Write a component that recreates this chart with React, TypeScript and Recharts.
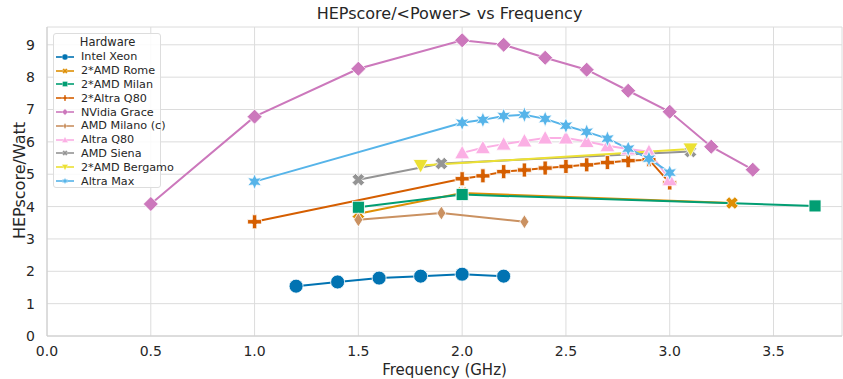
import React from 'react';
import { LineChart, Line, XAxis, YAxis, CartesianGrid } from 'recharts';

// frequency (GHz) / HEPscore per Watt
const intelXeonX = [1.2, 1.4, 1.6, 1.8, 2.0, 2.2];
const intelXeonY = [1.54, 1.67, 1.79, 1.85, 1.91, 1.85];

const romeX = [1.5, 2.0, 3.3];
const romeY = [3.78, 4.42, 4.11];

const milanX = [1.5, 2.0, 3.7];
const milanY = [3.98, 4.37, 4.02];

const altraQ80DualX = [1.0, 2.0, 2.1, 2.2, 2.3, 2.4, 2.5, 2.6, 2.7, 2.8, 2.9, 3.0];
const altraQ80DualY = [3.53, 4.86, 4.95, 5.08, 5.13, 5.19, 5.24, 5.29, 5.36, 5.42, 5.45, 4.73];

const graceX = [0.5, 1.0, 1.5, 2.0, 2.2, 2.4, 2.6, 2.8, 3.0, 3.2, 3.4];
const graceY = [4.08, 6.78, 8.26, 9.14, 9.0, 8.6, 8.23, 7.58, 6.93, 5.85, 5.14];

const milanoCX = [1.5, 1.9, 2.3];
const milanoCY = [3.59, 3.8, 3.53];

const altraQ80X = [2.0, 2.1, 2.2, 2.3, 2.4, 2.5, 2.6, 2.7, 2.8, 2.9, 3.0];
const altraQ80Y = [5.66, 5.82, 5.93, 6.03, 6.12, 6.12, 6.01, 5.88, 5.78, 5.7, 4.83];

const sienaX = [1.5, 1.9, 3.1];
const sienaY = [4.83, 5.33, 5.7];

const bergamoX = [1.8, 3.1];
const bergamoY = [5.27, 5.78];

const altraMaxX = [1.0, 2.0, 2.1, 2.2, 2.3, 2.4, 2.5, 2.6, 2.7, 2.8, 2.9, 3.0];
const altraMaxY = [4.77, 6.59, 6.68, 6.8, 6.84, 6.71, 6.5, 6.31, 6.1, 5.79, 5.48, 5.05];

const xTicks = [0, 0.5, 1, 1.5, 2, 2.5, 3, 3.5];
const yTicks = [0, 1, 2, 3, 4, 5, 6, 7, 8, 9];

const zip = (xs: number[], ys: number[]) => xs.map((x, i) => ({ x, y: ys[i] }));

type Shape = 'circle' | 'x' | 'square' | 'plus' | 'diamond' | 'thindiamond' | 'triup' | 'tridown' | 'star';

const series: { name: string; color: string; shape: Shape; data: { x: number; y: number }[] }[] = [
  { name: 'Intel Xeon', color: '#0173b2', shape: 'circle', data: zip(intelXeonX, intelXeonY) },
  { name: '2*AMD Rome', color: '#de8f05', shape: 'x', data: zip(romeX, romeY) },
  { name: '2*AMD Milan', color: '#029e73', shape: 'square', data: zip(milanX, milanY) },
  { name: '2*Altra Q80', color: '#d55e00', shape: 'plus', data: zip(altraQ80DualX, altraQ80DualY) },
  { name: 'NVidia Grace', color: '#cc78bc', shape: 'diamond', data: zip(graceX, graceY) },
  { name: 'AMD Milano (c)', color: '#ca9161', shape: 'thindiamond', data: zip(milanoCX, milanoCY) },
  { name: 'Altra Q80', color: '#fbafe4', shape: 'triup', data: zip(altraQ80X, altraQ80Y) },
  { name: 'AMD Siena', color: '#949494', shape: 'x', data: zip(sienaX, sienaY) },
  { name: '2*AMD Bergamo', color: '#ece133', shape: 'tridown', data: zip(bergamoX, bergamoY) },
  { name: 'Altra Max', color: '#56b4e9', shape: 'star', data: zip(altraMaxX, altraMaxY) },
];

const FONT = '"DejaVu Sans", sans-serif';
const TEXT = '#262626';

function pts(list: number[][], cx: number, cy: number, s: number) {
  return list.map(([a, b]) => `${cx + a * s},${cy + b * s}`).join(' ');
}

function Marker({ shape, cx, cy, color, s = 1 }: { shape: Shape; cx: number; cy: number; color: string; s?: number }) {
  const common = { fill: color, stroke: '#fff', strokeWidth: 0.8 * s };
  switch (shape) {
    case 'circle':
      return <circle cx={cx} cy={cy} r={7 * s} {...common} />;
    case 'square':
      return <rect x={cx - 6 * s} y={cy - 6 * s} width={12 * s} height={12 * s} {...common} />;
    case 'diamond':
      return <polygon points={pts([[0, -7.5], [7.5, 0], [0, 7.5], [-7.5, 0]], cx, cy, s)} {...common} />;
    case 'thindiamond':
      return <polygon points={pts([[0, -7], [4.5, 0], [0, 7], [-4.5, 0]], cx, cy, s)} {...common} />;
    case 'triup':
      return <polygon points={pts([[0, -7.5], [7.5, 6], [-7.5, 6]], cx, cy, s)} {...common} />;
    case 'tridown':
      return <polygon points={pts([[0, 7.5], [7.5, -6], [-7.5, -6]], cx, cy, s)} {...common} />;
    case 'plus': {
      const a = 7, b = 2.2;
      return (
        <polygon
          points={pts([[-b, -a], [b, -a], [b, -b], [a, -b], [a, b], [b, b], [b, a], [-b, a], [-b, b], [-a, b], [-a, -b], [-b, -b]], cx, cy, s)}
          {...common}
        />
      );
    }
    case 'x': {
      const a = 6.5, b = 2.4;
      const raw = [[-b, -a], [b, -a], [b, -b], [a, -b], [a, b], [b, b], [b, a], [-b, a], [-b, b], [-a, b], [-a, -b], [-b, -b]];
      const c = Math.SQRT1_2;
      const rot = raw.map(([u, v]) => [u * c - v * c, u * c + v * c]);
      return <polygon points={pts(rot, cx, cy, s)} {...common} />;
    }
    case 'star': {
      const list: number[][] = [];
      for (let i = 0; i < 12; i++) {
        const r = i % 2 === 0 ? 8 : 3.8;
        const ang = (Math.PI / 6) * i - Math.PI / 2;
        list.push([r * Math.cos(ang), r * Math.sin(ang)]);
      }
      return <polygon points={pts(list, cx, cy, s)} {...common} />;
    }
  }
  return null;
}

function LegendBox() {
  return (
    <div
      style={{
        position: 'absolute',
        top: 33,
        left: 53,
        boxSizing: 'border-box',
        width: 108,
        height: 155,
        border: '1px solid #ddd',
        borderRadius: 3,
        background: 'rgba(255,255,255,0.85)',
        padding: '1px 0 0 1px',
        fontFamily: FONT,
        fontSize: 11.2,
        color: TEXT,
      }}
    >
      <div style={{ textAlign: 'center', height: 15, lineHeight: '15px', fontSize: 11.5 }}>Hardware</div>
      {series.map(s => (
        <div key={s.name} style={{ display: 'flex', alignItems: 'center', height: 13.8 }}>
          <svg width={26} height={12} style={{ flex: 'none' }}>
            <line x1={1} y1={6} x2={19} y2={6} stroke={s.color} strokeWidth={2} opacity={0.8} />
            <Marker shape={s.shape} cx={10} cy={6} color={s.color} s={0.42} />
          </svg>
          <span style={{ whiteSpace: 'nowrap' }}>{s.name}</span>
        </div>
      ))}
    </div>
  );
}

export default function App() {
  return (
    <div style={{ position: 'relative', width: 843, height: 379, background: '#fff' }}>
      <style>{'body{margin:0}'}</style>
      <div
        style={{
          position: 'absolute',
          top: 4,
          left: 52,
          width: 795,
          textAlign: 'center',
          fontFamily: FONT,
          fontSize: 16,
          color: TEXT,
        }}
      >
        HEPscore/&lt;Power&gt; vs Frequency
      </div>
      <LineChart width={843} height={379} margin={{ top: 27, right: 1, bottom: 12, left: 0 }}>
        <CartesianGrid stroke="#dcdcdc" strokeWidth={1} />
        <XAxis
          dataKey="x"
          type="number"
          domain={[0, 3.83]}
          ticks={xTicks}
          interval={0}
          allowDataOverflow
          tickFormatter={(v: number) => v.toFixed(1)}
          tick={{ fill: TEXT, fontSize: 14, fontFamily: FONT }}
          axisLine={{ stroke: '#cccccc' }}
          tickLine={false}
          tickMargin={4}
          height={31}
          label={{ value: 'Frequency (GHz)', position: 'insideBottom', offset: -8, fill: TEXT, fontSize: 15, fontFamily: FONT }}
        />
        <YAxis
          type="number"
          domain={[0, 9.55]}
          ticks={yTicks}
          interval={0}
          allowDataOverflow
          tick={{ fill: TEXT, fontSize: 14, fontFamily: FONT }}
          axisLine={{ stroke: '#cccccc' }}
          tickLine={false}
          tickMargin={6}
          width={47}
          label={{ value: 'HEPscore/Watt', angle: -90, position: 'center', dx: -4, dy: -1, fill: TEXT, fontSize: 16, fontFamily: FONT }}
        />
        {series.map(s => (
          <Line
            key={s.name}
            data={s.data}
            dataKey="y"
            name={s.name}
            stroke={s.color}
            strokeWidth={2}
            isAnimationActive={false}
            dot={(p: any) => <Marker key={`${s.name}-${p.index}`} shape={s.shape} cx={p.cx} cy={p.cy} color={s.color} />}
            activeDot={false}
          />
        ))}
      </LineChart>
      <LegendBox />
    </div>
  );
}
